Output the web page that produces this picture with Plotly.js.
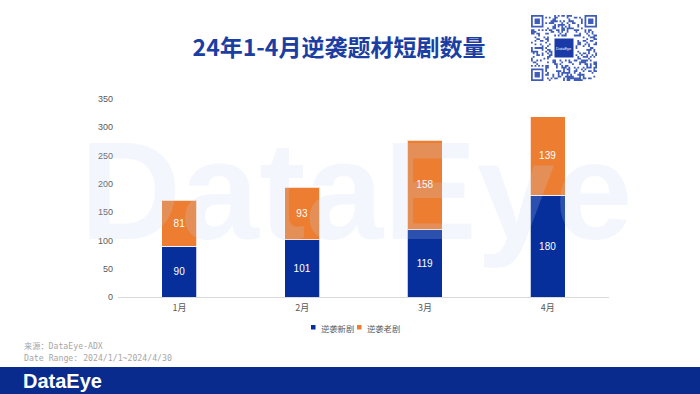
<!DOCTYPE html>
<html>
<head>
<meta charset="utf-8">
<script src="https://cdn.plot.ly/plotly-3.0.1.min.js"></script>
<style>
html,body{margin:0;padding:0;background:#fff;}
#chart{width:700px;height:394px;}
</style>
</head>
<body>
<div id="chart"></div>
<script>
// ---- data ----
const categories = ['1月', '2月', '3月', '4月'];
const newDrama = [90, 101, 119, 180];
const oldDrama = [81, 93, 158, 139];
const seriesNames = ['逆袭新剧', '逆袭老剧'];
const yTickVals = [0, 50, 100, 150, 200, 250, 300, 350];
const titleText = '24年1-4月逆袭题材短剧数量';
const sourceText = '来源：DataEye-ADX';
const rangeText = 'Date Range: 2024/1/1~2024/4/30';
const logoText = 'DataEye';

// ---- geometry helpers ----
const FW = 700, FH = 394;
const M = {l: 118, r: 91, t: 99, b: 97};
const PW = FW - M.l - M.r, PH = FH - M.t - M.b;
const px = v => (v - M.l) / PW;
const py = v => (FH - M.b - v) / PH;

const BLUE = '#062f9c';
const ORANGE = '#ed7d31';
const seriesColors = [BLUE, ORANGE];

const traces = [
  {
    type: 'bar', x: categories, y: newDrama, name: seriesNames[0],
    marker: {color: seriesColors[0], line: {color: 'rgba(255,255,255,0.75)', width: 1}},
    text: newDrama.map(String), textposition: 'inside', insidetextanchor: 'middle',
    textfont: {color: '#ffffff', size: 10, family: 'Liberation Sans, Arial, sans-serif'},
    hoverinfo: 'x+y+name'
  },
  {
    type: 'bar', x: categories, y: oldDrama, name: seriesNames[1],
    marker: {color: seriesColors[1], line: {color: 'rgba(255,255,255,0.75)', width: 1}},
    text: oldDrama.map(String), textposition: 'inside', insidetextanchor: 'middle',
    textfont: {color: '#ffffff', size: 10, family: 'Liberation Sans, Arial, sans-serif'},
    hoverinfo: 'x+y+name'
  }
];

// ---- QR code decoration (single path) ----
const QN = 37, QX = 531, QY = 15, QS = 66 / 37;
function isFinder(r, c) {
  const origins = [[0, 0], [0, QN - 7], [QN - 7, 0]];
  for (const [r0, c0] of origins) {
    const rr = r - r0, cc = c - c0;
    if (rr >= -1 && rr <= 7 && cc >= -1 && cc <= 7) {
      if (rr < 0 || rr > 6 || cc < 0 || cc > 6) return 0;
      if (rr === 0 || rr === 6 || cc === 0 || cc === 6) return 1;
      if (rr >= 2 && rr <= 4 && cc >= 2 && cc <= 4) return 1;
      return 0;
    }
  }
  return -1;
}
let qrPath = '';
for (let r = 0; r < QN; r++) {
  for (let c = 0; c < QN; c++) {
    let on;
    const f = isFinder(r, c);
    if (f >= 0) on = f === 1;
    else if (r >= 12 && r <= 24 && c >= 12 && c <= 24) on = false;
    else {
      let h = (r * 374761393 + c * 668265263) >>> 0;
      h = ((h ^ (h >>> 13)) * 1274126177) >>> 0;
      on = ((h >>> 16) & 7) < 3;
    }
    if (on) {
      const x0 = px(QX + c * QS), x1 = px(QX + (c + 1) * QS);
      const y0 = py(QY + r * QS), y1 = py(QY + (r + 1) * QS);
      qrPath += `M${x0.toFixed(5)},${y0.toFixed(5)}H${x1.toFixed(5)}V${y1.toFixed(5)}H${x0.toFixed(5)}Z`;
    }
  }
}

const shapes = [
  // footer band
  {type: 'rect', xref: 'paper', yref: 'paper', x0: px(0), x1: px(700), y0: py(367), y1: py(394),
   fillcolor: '#0a2b8e', line: {width: 0}, layer: 'below'},
  // QR modules
  {type: 'path', xref: 'paper', yref: 'paper', path: qrPath, fillcolor: '#3f5cb8', line: {width: 0}},
  // QR center logo
  {type: 'rect', xref: 'paper', yref: 'paper', x0: px(554), x1: px(574), y0: py(38), y1: py(58),
   fillcolor: '#1a3aa8', line: {color: '#ffffff', width: 1}},
  // legend swatches
  {type: 'rect', xref: 'paper', yref: 'paper', x0: px(311), x1: px(315.5), y0: py(325), y1: py(329.5),
   fillcolor: seriesColors[0], line: {width: 0}},
  {type: 'rect', xref: 'paper', yref: 'paper', x0: px(357), x1: px(361.5), y0: py(325), y1: py(329.5),
   fillcolor: seriesColors[1], line: {width: 0}}
];

const annotations = [
  // watermark
  {text: 'DataEye', xref: 'paper', yref: 'paper', x: px(356), y: py(190), xanchor: 'center', yanchor: 'middle',
   showarrow: false, font: {size: 140, weight: 'bold', color: 'rgba(195,215,245,0.2)', family: 'Liberation Sans, Arial, sans-serif'}},
  // legend labels
  {text: seriesNames[0], xref: 'paper', yref: 'paper', x: px(318.5), y: py(327.5), xanchor: 'left', yanchor: 'middle',
   showarrow: false, font: {size: 8.3, color: '#595959', family: 'Noto Sans CJK SC, sans-serif'}},
  {text: seriesNames[1], xref: 'paper', yref: 'paper', x: px(365), y: py(327.5), xanchor: 'left', yanchor: 'middle',
   showarrow: false, font: {size: 8.3, color: '#595959', family: 'Noto Sans CJK SC, sans-serif'}},
  // footer texts
  {text: sourceText, xref: 'paper', yref: 'paper', x: px(22), y: py(346), xanchor: 'left', yanchor: 'middle',
   showarrow: false, font: {size: 8.2, color: '#a6a6a6', family: 'DejaVu Sans Mono, Noto Sans CJK SC, monospace'}},
  {text: rangeText, xref: 'paper', yref: 'paper', x: px(22), y: py(358), xanchor: 'left', yanchor: 'middle',
   showarrow: false, font: {size: 8.2, color: '#a6a6a6', family: 'DejaVu Sans Mono, Noto Sans CJK SC, monospace'}},
  {text: logoText, xref: 'paper', yref: 'paper', x: px(21), y: py(381), xanchor: 'left', yanchor: 'middle',
   showarrow: false, font: {size: 20, color: '#ffffff', weight: 'bold', family: 'Liberation Sans, Arial, sans-serif'}},
  // QR logo text
  {text: 'DataEye', xref: 'paper', yref: 'paper', x: px(564), y: py(48), xanchor: 'center', yanchor: 'middle',
   showarrow: false, font: {size: 4, color: '#ffffff', family: 'Liberation Sans, Arial, sans-serif'}}
];

const layout = {
  width: FW, height: FH,
  margin: M,
  paper_bgcolor: '#ffffff', plot_bgcolor: '#ffffff',
  barmode: 'stack', bargap: 0.715,
  showlegend: false,
  title: {
    text: titleText, xref: 'container', yref: 'container', x: 339 / FW, y: 1 - 48 / FH,
    xanchor: 'center', yanchor: 'middle',
    font: {size: 23, color: '#1b3ea3', weight: 'bold', family: 'Noto Sans CJK SC, sans-serif'}
  },
  xaxis: {
    type: 'category', showgrid: false, zeroline: false,
    showline: true, linecolor: '#d9d9d9', linewidth: 1, ticks: '',
    tickfont: {size: 9, color: '#595959', family: 'Noto Sans CJK SC, Liberation Sans, sans-serif'},
    ticklabelstandoff: 2
  },
  yaxis: {
    range: [0, 350], tickvals: yTickVals, ticktext: yTickVals.map(String),
    showgrid: false, zeroline: false, showline: false, ticks: '',
    ticklabelstandoff: 4,
    tickfont: {size: 9, color: '#595959', family: 'Liberation Sans, Arial, sans-serif'}
  },
  shapes: shapes,
  annotations: annotations
};

Plotly.newPlot('chart', traces, layout, {displayModeBar: false, staticPlot: true});
</script>
</body>
</html>
